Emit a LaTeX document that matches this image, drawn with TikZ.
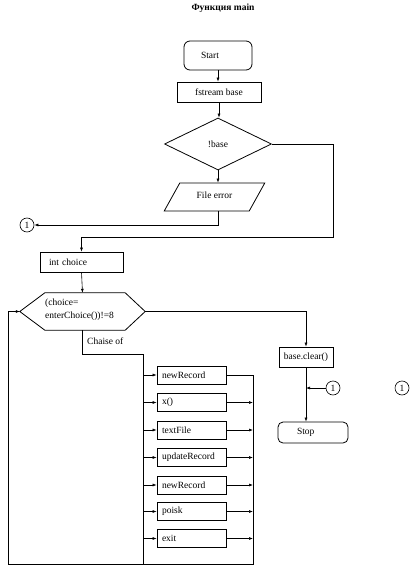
\documentclass[tikz,border=0pt]{standalone}
\usepackage{fontspec}
\setmainfont{Liberation Serif}
\usetikzlibrary{arrows.meta,shapes.geometric,calc}
\begin{document}
\begin{tikzpicture}[x=1pt,y=-1pt,
  font=\fontsize{9.5}{13}\selectfont,
  box/.style={draw, line width=0.8pt, inner sep=0pt, minimum height=19.5pt},
  casebox/.style={box, minimum width=69pt, minimum height=18pt, align=left, text width=59pt, inner xsep=5pt},
  conn/.style={draw, circle, line width=0.6pt, minimum size=14pt, inner sep=0pt},
  arr/.style={-{Latex[length=4pt,width=3pt]}, line width=0.6pt},
  ln/.style={line width=0.6pt}]
\useasboundingbox (0,0) rectangle (415,585);

\node (title) at (223,8) {\bfseries Функция main};

\node[box, rounded corners=6pt, minimum width=68pt, minimum height=29pt,
      align=left, text width=34pt, inner xsep=17pt] (start) at (218,55.5) {Start};
\node[box, minimum width=84pt, minimum height=20pt] (fs) at (219,92) {fstream base};
\node[draw, diamond, line width=0.8pt, inner sep=0pt, minimum width=107pt,
      minimum height=52pt] (dia) at (218,144) {!base};
\node[draw, trapezium, line width=0.8pt, trapezium left angle=53,
      trapezium right angle=127, trapezium stretches=true, inner sep=0pt,
      minimum width=101pt, minimum height=28pt] (ferr) at (214.5,197) {\raisebox{4pt}{File error}};
\node[conn] (c1) at (27,225) {1};

\node[box, minimum width=83pt, minimum height=20pt, align=left,
      text width=65pt, inner xsep=9pt] (ic) at (81.5,262) {int choice};

\node[minimum width=125pt, minimum height=37pt, inner sep=0pt] (hex) at (82.5,311.5) {};
\draw[line width=0.8pt] (hex.west) -- ([xshift=25pt]hex.north west)
  -- ([xshift=-20pt]hex.north east) -- (hex.east)
  -- ([xshift=-20pt]hex.south east) -- ([xshift=25pt]hex.south west) -- cycle;
\node[anchor=west, align=left, inner sep=0pt] (hextxt) at (45,310)
  {(choice=\\enterChoice())!=8};
\node[anchor=west, inner sep=0pt] (chaise) at (87,341) {Chaise of};

\node[box, minimum width=54pt, minimum height=20pt] (bc) at (306,357) {base.clear()};
\node[box, rounded corners=5pt, minimum width=70pt, minimum height=21pt,
      align=left, text width=32pt, inner xsep=19pt] (stop) at (313,432.5) {Stop};
\node[conn] (c2) at (333,388) {1};
\node[conn] (c3) at (402,388) {1};

\node[casebox] (b1) at (191.5,375) {newRecord};
\node[casebox] (b2) at (191.5,402.5) {x()};
\node[casebox] (b3) at (191.5,430) {textFile};
\node[casebox] (b4) at (191.5,457.5) {updateRecord};
\node[casebox] (b5) at (191.5,485) {newRecord};
\node[casebox] (b6) at (191.5,511.5) {poisk};
\node[casebox] (b7) at (191.5,538.5) {exit};

\coordinate (rc) at (333,237);
\coordinate (busL) at (143,354);
\coordinate (busLend) at (143,564);
\coordinate (lc1) at (253,564);
\coordinate (lc2) at (8,564);

% connectors
\draw[arr] (start.south) -- (start.south |- fs.north);
\draw[arr] (fs.south) -- (fs.south |- dia.north);
\draw[arr] (dia.south) -- (dia.south |- ferr.north);
\draw[arr] (dia.south |- ferr.south) |- (c1.east);
\draw[arr] (dia.east) -| (rc) -| (ic.north);
\draw[arr] (ic.south) -- (hex.north);
\draw[arr] (hex.east) -| (bc.north);
\draw[arr] (bc.south) -- (bc.south |- stop.north);
\draw[arr] (c2.west) -- (c2.west -| bc.south);
\draw[ln] (hex.south) |- (busL) -- (busLend);
\foreach \b in {b1,b2,b3,b4,b5,b6,b7} {
  \draw[arr] (\b.west -| busL) -- (\b.west);
}
\foreach \b in {b2,b3,b4,b5,b6,b7} {
  \draw[arr] (\b.east) -- (\b.east -| lc1);
}
\draw[arr] (b1.east) -| (lc1) -- (lc2) |- (hex.west);
\end{tikzpicture}
\end{document}
